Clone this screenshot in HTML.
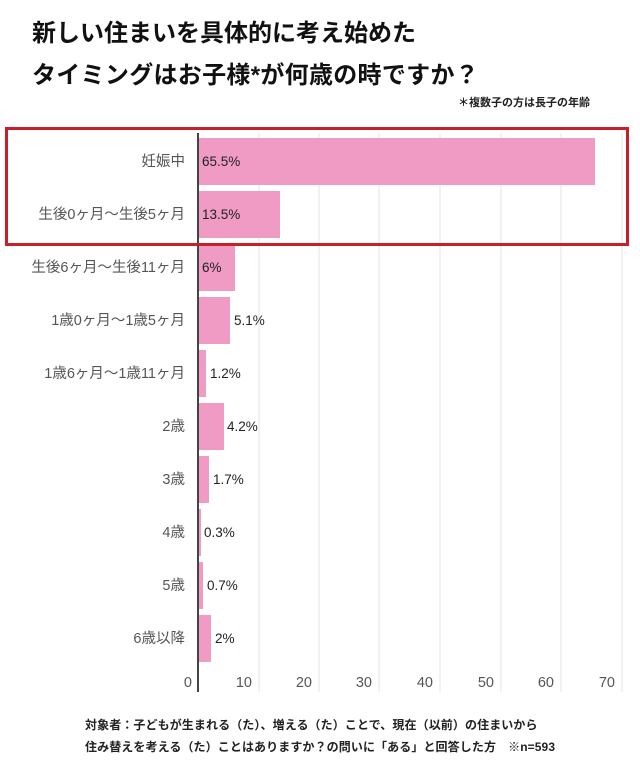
<!DOCTYPE html>
<html><head><meta charset="utf-8"><style>
html,body{margin:0;padding:0;background:#fff;}
svg{display:block;}
</style></head><body>
<svg width="640" height="767" xmlns="http://www.w3.org/2000/svg" font-family="'Liberation Sans','Noto Sans CJK JP',sans-serif">
<text x="32" y="41" font-size="24" font-weight="bold" fill="#111">新しい住まいを具体的に考え始めた</text>
<text x="32" y="83" font-size="24" font-weight="bold" fill="#111" letter-spacing="0.3">タイミングはお子様*が何歳の時ですか？</text>
<text x="590" y="106" font-size="11" font-weight="bold" fill="#222" text-anchor="end">＊複数子の方は長子の年齢</text>
<g stroke="#e6e6e6" stroke-width="1">
<line x1="259" y1="133" x2="259" y2="692"/><line x1="319" y1="133" x2="319" y2="692"/>
<line x1="379" y1="133" x2="379" y2="692"/><line x1="440" y1="133" x2="440" y2="692"/>
<line x1="501" y1="133" x2="501" y2="692"/><line x1="561" y1="133" x2="561" y2="692"/>
<line x1="622" y1="133" x2="622" y2="692"/>
</g>
<g fill="#ef9bc3">
<rect x="198" y="138" width="397" height="47"/>
<rect x="198" y="191" width="82" height="47"/>
<rect x="198" y="244" width="37" height="47"/>
<rect x="198" y="297" width="32" height="47"/>
<rect x="198" y="350" width="8" height="47"/>
<rect x="198" y="403" width="26" height="47"/>
<rect x="198" y="456" width="11" height="47"/>
<rect x="198" y="509" width="3" height="47"/>
<rect x="198" y="562" width="5" height="47"/>
<rect x="198" y="615" width="13" height="47"/>
</g>
<line x1="198" y1="133" x2="198" y2="692" stroke="#444" stroke-width="2"/>
<g font-size="14.5" fill="#555" text-anchor="end">
<text x="185" y="166">妊娠中</text>
<text x="185" y="219">生後0ヶ月～生後5ヶ月</text>
<text x="185" y="272">生後6ヶ月～生後11ヶ月</text>
<text x="185" y="325">1歳0ヶ月～1歳5ヶ月</text>
<text x="185" y="378">1歳6ヶ月～1歳11ヶ月</text>
<text x="185" y="431">2歳</text>
<text x="185" y="484">3歳</text>
<text x="185" y="537">4歳</text>
<text x="185" y="590">5歳</text>
<text x="185" y="643">6歳以降</text>
</g>
<g font-size="13.5" fill="#222">
<text x="202" y="166">65.5%</text>
<text x="202" y="219">13.5%</text>
<text x="202" y="272">6%</text>
<text x="234" y="325">5.1%</text>
<text x="210" y="378">1.2%</text>
<text x="227" y="431">4.2%</text>
<text x="213" y="484">1.7%</text>
<text x="204" y="537">0.3%</text>
<text x="207" y="590">0.7%</text>
<text x="215" y="643">2%</text>
</g>
<g font-size="14.5" fill="#555" text-anchor="end">
<text x="192" y="687">0</text><text x="252" y="687">10</text><text x="312" y="687">20</text>
<text x="372" y="687">30</text><text x="433" y="687">40</text><text x="494" y="687">50</text>
<text x="554" y="687">60</text><text x="615" y="687">70</text>
</g>
<rect x="6.5" y="128.5" width="621" height="116" fill="none" stroke="#c8202a" stroke-width="3"/>
<g font-size="12" font-weight="bold" fill="#222" letter-spacing="0.1">
<text x="85" y="729">対象者：子どもが生まれる（た）、増える（た）ことで、現在（以前）の住まいから</text>
<text x="85" y="751">住み替えを考える（た）ことはありますか？の問いに「ある」と回答した方　※n=593</text>
</g>
</svg>
</body></html>
